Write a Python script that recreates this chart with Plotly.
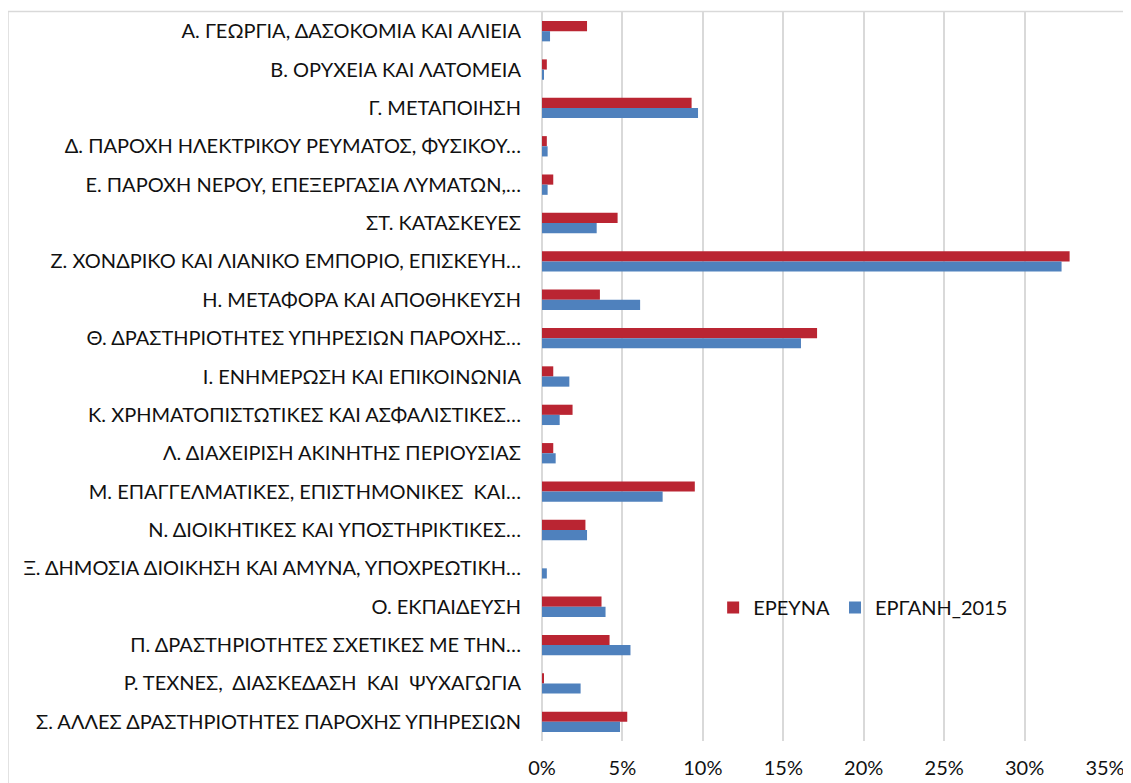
import plotly.graph_objects as go

categories = [
    "Α. ΓΕΩΡΓΙΑ, ΔΑΣΟΚΟΜΙΑ ΚΑΙ ΑΛΙΕΙΑ",
    "Β. ΟΡΥΧΕΙΑ ΚΑΙ ΛΑΤΟΜΕΙΑ",
    "Γ. ΜΕΤΑΠΟΙΗΣΗ",
    "Δ. ΠΑΡΟΧΗ ΗΛΕΚΤΡΙΚΟΥ ΡΕΥΜΑΤΟΣ, ΦΥΣΙΚΟΥ…",
    "Ε. ΠΑΡΟΧΗ ΝΕΡΟΥ, ΕΠΕΞΕΡΓΑΣΙΑ ΛΥΜΑΤΩΝ,…",
    "ΣΤ. ΚΑΤΑΣΚΕΥΕΣ",
    "Ζ. ΧΟΝΔΡΙΚΟ ΚΑΙ ΛΙΑΝΙΚΟ ΕΜΠΟΡΙΟ, ΕΠΙΣΚΕΥΗ…",
    "Η. ΜΕΤΑΦΟΡΑ ΚΑΙ ΑΠΟΘΗΚΕΥΣΗ",
    "Θ. ΔΡΑΣΤΗΡΙΟΤΗΤΕΣ ΥΠΗΡΕΣΙΩΝ ΠΑΡΟΧΗΣ…",
    "Ι. ΕΝΗΜΕΡΩΣΗ ΚΑΙ ΕΠΙΚΟΙΝΩΝΙΑ",
    "Κ. ΧΡΗΜΑΤΟΠΙΣΤΩΤΙΚΕΣ ΚΑΙ ΑΣΦΑΛΙΣΤΙΚΕΣ…",
    "Λ. ΔΙΑΧΕΙΡΙΣΗ ΑΚΙΝΗΤΗΣ ΠΕΡΙΟΥΣΙΑΣ",
    "Μ. ΕΠΑΓΓΕΛΜΑΤΙΚΕΣ, ΕΠΙΣΤΗΜΟΝΙΚΕΣ  ΚΑΙ…",
    "Ν. ΔΙΟΙΚΗΤΙΚΕΣ ΚΑΙ ΥΠΟΣΤΗΡΙΚΤΙΚΕΣ…",
    "Ξ. ΔΗΜΟΣΙΑ ΔΙΟΙΚΗΣΗ ΚΑΙ ΑΜΥΝΑ, ΥΠΟΧΡΕΩΤΙΚΗ…",
    "Ο. ΕΚΠΑΙΔΕΥΣΗ",
    "Π. ΔΡΑΣΤΗΡΙΟΤΗΤΕΣ ΣΧΕΤΙΚΕΣ ΜΕ ΤΗΝ…",
    "Ρ. ΤΕΧΝΕΣ,  ΔΙΑΣΚΕΔΑΣΗ  ΚΑΙ  ΨΥΧΑΓΩΓΙΑ",
    "Σ. ΑΛΛΕΣ ΔΡΑΣΤΗΡΙΟΤΗΤΕΣ ΠΑΡΟΧΗΣ ΥΠΗΡΕΣΙΩΝ",
]

ereuna = [2.8, 0.3, 9.3, 0.3, 0.7, 4.7, 32.8, 3.6, 17.1, 0.7, 1.9, 0.7, 9.5, 2.7, 0.0, 3.7, 4.2, 0.1, 5.3]
ergani_2015 = [0.5, 0.1, 9.7, 0.35, 0.35, 3.4, 32.3, 6.1, 16.1, 1.7, 1.1, 0.85, 7.5, 2.8, 0.3, 3.95, 5.5, 2.4, 4.85]

series_names = ["ΕΡΕΥΝΑ", "ΕΡΓΑΝΗ_2015"]
colors = ["#BA2532", "#4F81BD"]

xticks = [0, 5, 10, 15, 20, 25, 30, 35]

FONT = "Lato, 'Noto Sans', sans-serif"
TXT = "#111111"

fig = go.Figure()
for name, vals, col in zip(series_names, [ereuna, ergani_2015], colors):
    fig.add_trace(go.Bar(
        y=categories, x=vals, name=name, orientation="h",
        marker=dict(color=col, line=dict(width=0)),
    ))

L, R, T, B = 534, 26, 4, 42
W, H = 1123, 775
PW = W - L - R
PH = H - T - B

fig.update_layout(
    width=W, height=H,
    barmode="group", bargap=0.47, bargroupgap=0,
    margin=dict(l=L, r=R, t=T, b=B),
    plot_bgcolor="white", paper_bgcolor="white",
    font=dict(family=FONT, size=20, color=TXT),
    legend=dict(
        orientation="h", x=0.304, y=0.183, xanchor="left", yanchor="middle",
        bgcolor="rgba(0,0,0,0)", font=dict(size=20, color=TXT),
        itemwidth=30, traceorder="normal",
    ),
    showlegend=True,
)
fig.update_xaxes(
    range=[0, 35], tickvals=xticks, ticktext=[f"{v}%" for v in xticks],
    showgrid=True, gridcolor="#D9D9D9", gridwidth=2,
    zeroline=True, zerolinecolor="#D9D9D9", zerolinewidth=2,
    showline=False, ticks="", tickfont=dict(size=20), ticklabelstandoff=13,
)
fig.update_yaxes(
    autorange="reversed", categoryorder="array", categoryarray=categories,
    showgrid=False, ticks="", showline=False, automargin=False,
    tickfont=dict(size=20), ticklabelstandoff=20,
)
fig.add_shape(
    type="rect", xref="paper", yref="paper",
    x0=(0 - L) / PW, x1=1.2, y0=-0.2, y1=1.0 + 0.5 / PH,
    line=dict(color="#D9D9D9", width=1.5), fillcolor="rgba(0,0,0,0)", layer="below",
)

fig.write_html("out.html")
